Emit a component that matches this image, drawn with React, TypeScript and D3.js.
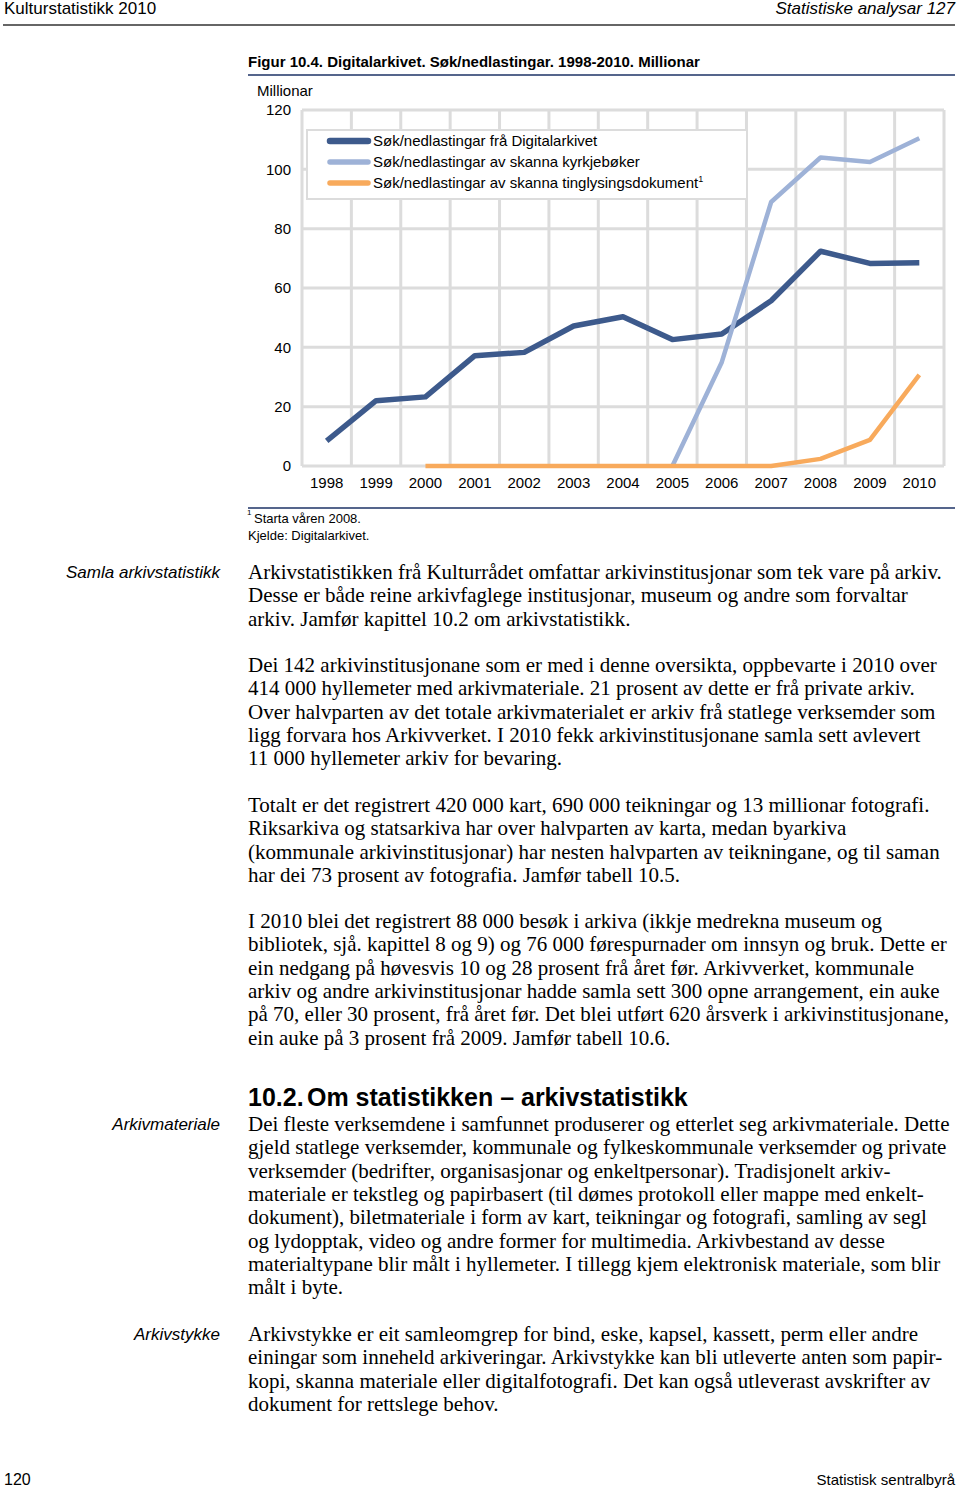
import React from 'react';
import * as d3 from 'd3';

const width = 960;
const height = 1489;

// chart data, millionar
const years = ['1998', '1999', '2000', '2001', '2002', '2003', '2004', '2005', '2006', '2007', '2008', '2009', '2010'];
const digitalarkivet = [8.5, 22, 23.3, 37.2, 38.3, 47.2, 50.3, 42.6, 44.5, 55.7, 72.4, 68.3, 68.5];
const kyrkjeboker = [null, null, null, null, null, null, null, 0, 35, 89, 104, 102.5, 110.5];
const tinglysing = [null, null, 0, 0, 0, 0, 0, 0, 0, 0, 2.4, 8.8, 30.7];
const yTicks = [0, 20, 40, 60, 80, 100, 120];

const seriesNames = [
    'Søk/nedlastingar frå Digitalarkivet',
    'Søk/nedlastingar av skanna kyrkjebøker',
    'Søk/nedlastingar av skanna tinglysingsdokument',
];
const colors = ['#3d5a8c', '#9eb2d7', '#f8aa5c'];
const strokes = [5.5, 4.5, 4.5];

// body text
const para1 = [
    'Arkivstatistikken frå Kulturrådet omfattar arkivinstitusjonar som tek vare på arkiv.',
    'Desse er både reine arkivfaglege institusjonar, museum og andre som forvaltar',
    'arkiv. Jamfør kapittel 10.2 om arkivstatistikk.',
];
const para2 = [
    'Dei 142 arkivinstitusjonane som er med i denne oversikta, oppbevarte i 2010 over',
    '414 000 hyllemeter med arkivmateriale. 21 prosent av dette er frå private arkiv.',
    'Over halvparten av det totale arkivmaterialet er arkiv frå statlege verksemder som',
    'ligg forvara hos Arkivverket. I 2010 fekk arkivinstitusjonane samla sett avlevert',
    '11 000 hyllemeter arkiv for bevaring.',
];
const para3 = [
    'Totalt er det registrert 420 000 kart, 690 000 teikningar og 13 millionar fotografi.',
    'Riksarkiva og statsarkiva har over halvparten av karta, medan byarkiva',
    '(kommunale arkivinstitusjonar) har nesten halvparten av teikningane, og til saman',
    'har dei 73 prosent av fotografia. Jamfør tabell 10.5.',
];
const para4 = [
    'I 2010 blei det registrert 88 000 besøk i arkiva (ikkje medrekna museum og',
    'bibliotek, sjå. kapittel 8 og 9) og 76 000 førespurnader om innsyn og bruk. Dette er',
    'ein nedgang på høvesvis 10 og 28 prosent frå året før. Arkivverket, kommunale',
    'arkiv og andre arkivinstitusjonar hadde samla sett 300 opne arrangement, ein auke',
    'på 70, eller 30 prosent, frå året før. Det blei utført 620 årsverk i arkivinstitusjonane,',
    'ein auke på 3 prosent frå 2009. Jamfør tabell 10.6.',
];
const para5 = [
    'Dei fleste verksemdene i samfunnet produserer og etterlet seg arkivmateriale. Dette',
    'gjeld statlege verksemder, kommunale og fylkeskommunale verksemder og private',
    'verksemder (bedrifter, organisasjonar og enkeltpersonar). Tradisjonelt arkiv-',
    'materiale er tekstleg og papirbasert (til dømes protokoll eller mappe med enkelt-',
    'dokument), biletmateriale i form av kart, teikningar og fotografi, samling av segl',
    'og lydopptak, video og andre former for multimedia. Arkivbestand av desse',
    'materialtypane blir målt i hyllemeter. I tillegg kjem elektronisk materiale, som blir',
    'målt i byte.',
];
const para6 = [
    'Arkivstykke er eit samleomgrep for bind, eske, kapsel, kassett, perm eller andre',
    'einingar som inneheld arkiveringar. Arkivstykke kan bli utleverte anten som papir-',
    'kopi, skanna materiale eller digitalfotografi. Det kan også utleverast avskrifter av',
    'dokument for rettslege behov.',
];

const sans = 'Arial, "Liberation Sans", Helvetica, sans-serif';
const serif = '"Times New Roman", "Liberation Serif", serif';
const lineGap = 23.3;

const Paragraph = ({ lines, top }: { lines: string[]; top: number }) => (
    <text fontFamily={serif} fontSize={21} fill="#000">
        {lines.map((l, i) => (
            <tspan key={i} x={248} y={top + i * lineGap}>{l}</tspan>
        ))}
    </text>
);

const App = () => {
    const x = d3.scaleBand().domain(years).range([302, 944]).padding(0);
    const y = d3.scaleLinear().domain([0, 120]).range([466, 110]);
    const cx = (yr: string) => (x(yr) as number) + x.bandwidth() / 2;

    const line = d3.line<number | null>()
        .defined(d => d !== null)
        .x((d, i) => cx(years[i]))
        .y(d => y(d as number));

    const allSeries = [digitalarkivet, kyrkjeboker, tinglysing];
    const bounds = years.map(yr => x(yr) as number).concat([x.range()[1]]);

    return (
        <svg width={width} height={height} style={{ position: 'absolute', left: 0, top: 0, background: '#fff' }}>
            {/* page header */}
            <text x={4} y={14} fontFamily={sans} fontSize={17}>Kulturstatistikk 2010</text>
            <text x={955} y={14} fontFamily={sans} fontSize={17} fontStyle="italic" textAnchor="end">Statistiske analysar 127</text>
            <line x1={3} x2={955} y1={25} y2={25} stroke="#333" strokeWidth={1.5} />

            {/* figure title */}
            <text x={248} y={67} fontFamily={sans} fontSize={15} fontWeight="bold">Figur 10.4. Digitalarkivet. Søk/nedlastingar. 1998-2010. Millionar</text>
            <line x1={248} x2={955} y1={75} y2={75} stroke="#55658c" strokeWidth={2} />
            <text x={257} y={96} fontFamily={sans} fontSize={15}>Millionar</text>

            {/* grid */}
            {yTicks.map(t => (
                <line key={'h' + t} x1={302} x2={944} y1={y(t)} y2={y(t)} stroke="#dcdcdc" strokeWidth={3} />
            ))}
            {bounds.map((b, i) => (
                <line key={'v' + i} x1={b} x2={b} y1={y(120)} y2={y(0)} stroke="#dcdcdc" strokeWidth={3} />
            ))}
            {yTicks.map(t => (
                <text key={'yl' + t} x={291} y={y(t)} dy="0.35em" textAnchor="end" fontFamily={sans} fontSize={15}>{t}</text>
            ))}
            {years.map(yr => (
                <text key={'xl' + yr} x={cx(yr)} y={483} dy="0.35em" textAnchor="middle" fontFamily={sans} fontSize={15}>{yr}</text>
            ))}

            {/* legend */}
            <rect x={307} y={130} width={440} height={69} fill="#fff" stroke="#dcdcdc" strokeWidth={2} />
            {seriesNames.map((n, i) => (
                <g key={n}>
                    <line x1={330} x2={368} y1={141 + i * 21} y2={141 + i * 21} stroke={colors[i]} strokeWidth={strokes[i] + 1} strokeLinecap="round" />
                    <text x={373} y={141 + i * 21} dy="0.35em" fontFamily={sans} fontSize={15}>
                        {n}
                        {i === 2 && <tspan fontSize={9} dy="-0.7em">1</tspan>}
                    </text>
                </g>
            ))}

            {/* series */}
            {allSeries.map((s, i) => (
                <path key={i} d={line(s) as string} fill="none" stroke={colors[i]} strokeWidth={strokes[i]} strokeLinejoin="round" />
            ))}

            <line x1={248} x2={955} y1={508} y2={508} stroke="#55658c" strokeWidth={2} />
            <text x={247} y={515} fontFamily={sans} fontSize={8}>1</text>
            <text x={254} y={523} fontFamily={sans} fontSize={13}>Starta våren 2008.</text>
            <text x={248} y={540} fontFamily={sans} fontSize={13}>Kjelde: Digitalarkivet.</text>

            {/* margin labels */}
            <text x={220} y={578} textAnchor="end" fontFamily={sans} fontSize={17} fontStyle="italic">Samla arkivstatistikk</text>
            <text x={220} y={1130} textAnchor="end" fontFamily={sans} fontSize={17} fontStyle="italic">Arkivmateriale</text>
            <text x={220} y={1340} textAnchor="end" fontFamily={sans} fontSize={17} fontStyle="italic">Arkivstykke</text>

            <Paragraph lines={para1} top={579} />
            <Paragraph lines={para2} top={672} />
            <Paragraph lines={para3} top={812} />
            <Paragraph lines={para4} top={928} />

            <text x={248} y={1106} fontFamily={sans} fontSize={25} fontWeight="bold">
                10.2.<tspan x={307}>Om statistikken – arkivstatistikk</tspan>
            </text>

            <Paragraph lines={para5} top={1131} />
            <Paragraph lines={para6} top={1341} />

            {/* page footer */}
            <text x={4} y={1485} fontFamily={sans} fontSize={16}>120</text>
            <text x={955} y={1485} fontFamily={sans} fontSize={15} textAnchor="end">Statistisk sentralbyrå</text>
        </svg>
    );
};

export default App;
